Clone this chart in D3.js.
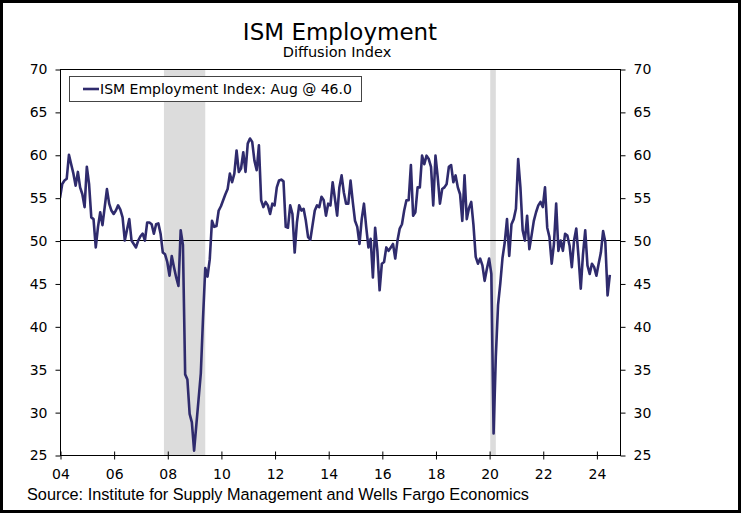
<!DOCTYPE html>
<html>
<head>
<meta charset="utf-8">
<script src="https://cdn.jsdelivr.net/npm/d3@7/dist/d3.min.js"></script>
<style>
  html, body { margin: 0; padding: 0; background: #ffffff; }
  svg { display: block; }
</style>
</head>
<body>
<svg id="chart" width="741" height="513"></svg>
<script>
// ---------------- DATA ----------------
const chartTitle = "ISM Employment";
const chartSubtitle = "Diffusion Index";
const seriesLabel = "ISM Employment Index: Aug @ 46.0";
const sourceText = "Source: Institute for Supply Management and Wells Fargo Economics";

const startYear = 2004;            // first month = Jan 2004, monthly through Aug 2024
const employmentIndex = [
  // 2004
  54.3, 55.0, 56.6, 57.0, 57.2, 60.0, 58.9, 57.8, 56.4, 58.0, 56.2, 55.4,
  // 2005
  53.9, 58.6, 56.6, 52.7, 52.5, 49.2, 51.6, 53.3, 51.8, 53.9, 56.0, 54.3,
  // 2006
  53.5, 53.1, 53.5, 54.1, 53.6, 52.7, 50.0, 51.3, 52.5, 50.0, 49.6, 49.2,
  // 2007
  50.0, 50.5, 50.8, 50.0, 52.1, 52.1, 51.9, 50.8, 51.9, 52.0, 50.8, 48.6,
  // 2008
  48.4, 47.5, 45.9, 48.2, 46.9, 45.7, 44.7, 51.2, 49.5, 34.4, 33.8, 29.8,
  // 2009
  28.8, 25.5, 28.5, 31.5, 34.5, 41.0, 46.8, 45.8, 47.8, 52.3, 51.6, 51.7,
  // 2010
  53.5, 54.0, 54.7, 55.4, 56.0, 57.8, 56.8, 57.8, 60.5, 58.0, 58.4, 60.3,
  // 2011
  58.0, 61.3, 61.9, 61.5, 59.3, 58.2, 61.1, 54.7, 53.9, 54.5, 54.1, 53.1,
  // 2012
  54.3, 54.1, 56.2, 57.0, 57.1, 56.9, 51.6, 51.5, 54.1, 53.1, 48.6, 52.1,
  // 2013
  54.1, 53.5, 53.7, 52.3, 50.4, 50.1, 51.8, 53.5, 54.1, 53.9, 55.1, 54.7,
  // 2014
  52.9, 54.3, 54.1, 56.8, 54.9, 52.9, 56.2, 57.6, 55.6, 54.3, 54.3, 57.0,
  // 2015
  54.5, 52.3, 51.6, 49.6, 52.5, 54.3, 51.6, 49.2, 50.2, 45.7, 51.5, 48.8,
  // 2016
  44.2, 47.3, 47.5, 49.2, 48.8, 49.2, 49.6, 47.9, 50.0, 51.4, 51.9, 53.5,
  // 2017
  54.7, 54.7, 58.8, 52.9, 53.3, 56.2, 56.2, 59.9, 58.9, 59.9, 59.5, 58.6,
  // 2018
  54.1, 59.9, 57.4, 54.3, 56.0, 56.2, 56.6, 58.6, 58.8, 56.8, 57.6, 56.2,
  // 2019
  55.4, 52.3, 57.6, 52.5, 53.8, 54.5, 51.8, 48.1, 47.3, 47.9, 47.1, 45.3,
  // 2020
  46.7, 47.9, 46.1, 27.5, 36.5, 42.5, 45.0, 48.0, 49.8, 52.5, 48.2, 51.9,
  // 2021
  52.5, 53.7, 59.5, 56.2, 51.2, 50.0, 52.9, 49.0, 50.6, 52.3, 53.3, 54.1,
  // 2022
  54.5, 53.9, 56.2, 51.5, 50.4, 47.3, 49.6, 54.3, 48.8, 50.0, 48.8, 50.8,
  // 2023
  50.6, 49.4, 46.9, 50.0, 51.4, 48.1, 44.4, 48.4, 51.2, 47.1, 46.1, 47.3,
  // 2024
  46.9, 45.9, 47.3, 48.6, 51.1, 49.8, 43.6, 46.0
];

const yTickValues = [25, 30, 35, 40, 45, 50, 55, 60, 65, 70];
const xTickYears = [2004, 2006, 2008, 2010, 2012, 2014, 2016, 2018, 2020, 2022, 2024];
// recessions as [first month index, last month index] (0 = Jan 2004)
const recessionStart = [47, 193];   // Dec 2007, Feb 2020
const recessionEnd   = [65, 195];   // Jun 2009, Apr 2020
const referenceLevel = 50;

// ---------------- LAYOUT ----------------
const W = 741, H = 513;
const plot = { left: 60, right: 620, top: 69, bottom: 455 };
const lineColor = "#2f2b6d";
const font = "'DejaVu Sans', Verdana, sans-serif";

const svg = d3.select("#chart");

const x = d3.scaleLinear().domain([2004, 2024.88]).range([plot.left, plot.right]);
const y = d3.scaleLinear().domain([25, 70]).range([plot.bottom, plot.top]);
const monthPos = i => startYear + (i - 1) / 12;

// background
svg.append("rect").attr("x", 0).attr("y", 0).attr("width", W).attr("height", H).attr("fill", "#fff");

// clip
svg.append("defs").append("clipPath").attr("id", "plotClip")
  .append("rect").attr("x", plot.left).attr("y", plot.top)
  .attr("width", plot.right - plot.left).attr("height", plot.bottom - plot.top);

// recession shading
const recData = recessionStart.map((s, k) => ({ s, e: recessionEnd[k] }));
svg.append("g").attr("clip-path", "url(#plotClip)")
  .selectAll("rect").data(recData).join("rect")
  .attr("x", d => x(monthPos(d.s + 0.5)))
  .attr("width", d => x(monthPos(d.e + 1)) - x(monthPos(d.s + 0.5)))
  .attr("y", plot.top).attr("height", plot.bottom - plot.top)
  .attr("fill", "#dcdcdc");

// reference line at 50
svg.append("line")
  .attr("x1", plot.left).attr("x2", plot.right)
  .attr("y1", y(referenceLevel)).attr("y2", y(referenceLevel))
  .attr("stroke", "#000").attr("stroke-width", 1).attr("shape-rendering", "crispEdges");

// series line
const line = d3.line().x((d, i) => x(monthPos(i))).y(d => y(d));
svg.append("g").attr("clip-path", "url(#plotClip)")
  .append("path").datum(employmentIndex)
  .attr("d", line).attr("fill", "none")
  .attr("stroke", lineColor).attr("stroke-width", 2.6)
  .attr("stroke-linejoin", "round");

// frame
svg.append("rect")
  .attr("x", plot.left + 0.5).attr("y", plot.top + 0.5)
  .attr("width", plot.right - plot.left).attr("height", plot.bottom - plot.top)
  .attr("fill", "none").attr("stroke", "#000").attr("stroke-width", 1);

// left axis
const leftAxis = svg.append("g").attr("transform", `translate(${plot.left + 0.5},0.5)`)
  .call(d3.axisLeft(y).tickValues(yTickValues).tickSize(5).tickPadding(8).tickSizeOuter(0));
// right axis
const rightAxis = svg.append("g").attr("transform", `translate(${plot.right + 0.5},0.5)`)
  .call(d3.axisRight(y).tickValues(yTickValues).tickSize(5).tickPadding(8).tickSizeOuter(0));
// bottom axis
const bottomAxis = svg.append("g").attr("transform", `translate(0.5,${plot.bottom + 0.5})`)
  .call(d3.axisBottom(x).tickValues(xTickYears).tickSize(4).tickPadding(10).tickSizeOuter(0)
    .tickFormat(d => String(d).slice(2)));
bottomAxis.selectAll(".tick line").attr("y1", -4).attr("y2", 4);

[leftAxis, rightAxis, bottomAxis].forEach(g => {
  g.select(".domain").remove();
  g.selectAll(".tick line").attr("stroke", "#000");
  g.selectAll(".tick text").attr("fill", "#000")
    .style("font-family", font).style("font-size", "14px");
});

// title & subtitle
svg.append("text").attr("x", 340).attr("y", 40).attr("text-anchor", "middle")
  .style("font-family", font).style("font-size", "23px").attr("fill", "#000")
  .text(chartTitle);
svg.append("text").attr("x", 337).attr("y", 56.5).attr("text-anchor", "middle")
  .style("font-family", font).style("font-size", "14.5px").attr("fill", "#000")
  .text(chartSubtitle);

// legend
const lg = svg.append("g");
lg.append("rect").attr("x", 69.5).attr("y", 76.5).attr("width", 292).attr("height", 25)
  .attr("fill", "#fff").attr("stroke", "#444").attr("stroke-width", 1);
lg.append("line").attr("x1", 83).attr("x2", 99).attr("y1", 89).attr("y2", 89)
  .attr("stroke", lineColor).attr("stroke-width", 2.6);
lg.append("text").attr("x", 100).attr("y", 94)
  .style("font-family", font).style("font-size", "14px").attr("fill", "#000")
  .text(seriesLabel);

// source
svg.append("text").attr("x", 27).attr("y", 500)
  .style("font-family", "'Liberation Sans', Arial, sans-serif").style("font-size", "16.3px")
  .attr("fill", "#000").text(sourceText);

// outer border
svg.append("rect").attr("x", 1.5).attr("y", 1.5).attr("width", W - 3).attr("height", H - 3)
  .attr("fill", "none").attr("stroke", "#000").attr("stroke-width", 3);
</script>
</body>
</html>
